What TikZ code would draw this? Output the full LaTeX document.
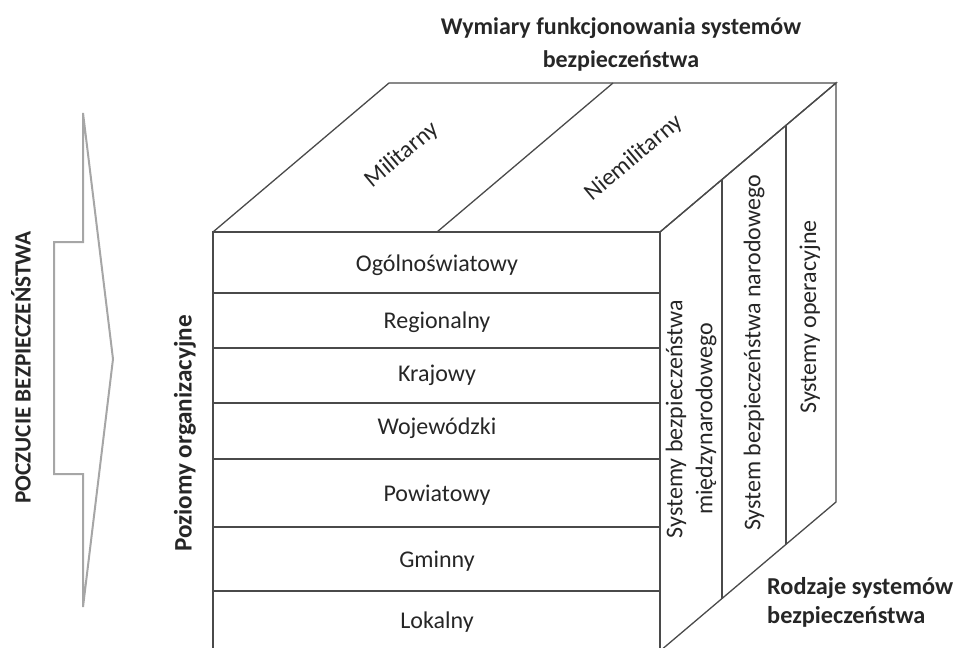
\documentclass[tikz,border=0pt]{standalone}
\usepackage{fontspec}
\setmainfont{Carlito}
\definecolor{ink}{HTML}{262626}
\definecolor{edge}{HTML}{4A4A4A}
\definecolor{arrowgrey}{HTML}{A6A6A6}
\begin{document}
\begin{tikzpicture}[x=1pt,y=-1pt,
  cubeline/.style={draw=edge,line width=1.3pt,line join=miter},
  lbl/.style={text=ink,inner sep=0pt,font=\fontsize{24}{28}\selectfont},
  boldlbl/.style={text=ink,inner sep=0pt,font=\bfseries\fontsize{24}{29}\selectfont},
  bigarrow/.style={draw=arrowgrey,line width=2pt,line join=miter}]
\useasboundingbox (0,0) rectangle (954,648);
\clip (0,0) rectangle (954,648);
% corners
\coordinate (FTL) at (213,232);
\coordinate (FTR) at (660,232);
\coordinate (FBL) at (213,651);
\coordinate (FBR) at (660,651);
\coordinate (BTL) at (389,83);
\coordinate (BTR) at (836,83);
\coordinate (BBR) at (836,502);
\coordinate (FTM) at (437,232);
\coordinate (BTM) at (613,83);
\coordinate (V1T) at (722,179.5);
\coordinate (V1B) at (722,598.5);
\coordinate (V2T) at (786,125.3);
\coordinate (V2B) at (786,544.3);
% top face
\draw[cubeline] (FTL) -- (BTL) -- (BTR) -- (FTR);
\draw[cubeline] (FTM) -- (BTM);
% right face
\draw[cubeline] (FTR) -- (BTR) -- (BBR) -- (FBR);
\draw[cubeline] (V1T) -- (V1B);
\draw[cubeline] (V2T) -- (V2B);
% front face
\draw[cubeline] (FTL) rectangle (FBR);
\foreach \y in {293,348,403,459,527,591} \draw[cubeline] (213,\y) -- (660,\y);
% front labels
\node[lbl] (r1) at (437,265) {Ogólnoświatowy};
\node[lbl] (r2) at (437,322) {Regionalny};
\node[lbl] (r3) at (437,375) {Krajowy};
\node[lbl] (r4) at (437,428) {Wojewódzki};
\node[lbl] (r5) at (437,495) {Powiatowy};
\node[lbl] (r6) at (437,561) {Gminny};
\node[lbl] (r7) at (437,622) {Lokalny};
% top labels
\node[lbl,rotate=40] (t1) at (402,155) {Militarny};
\node[lbl,rotate=40] (t2) at (634,158) {Niemilitarny};
% right labels
\node[lbl,rotate=90,align=center,font=\fontsize{24}{30}\selectfont] (s1) at (691,419) {Systemy bezpieczeństwa\\międzynarodowego};
\node[lbl,rotate=90] (s2) at (754,353) {System bezpieczeństwa narodowego};
\node[lbl,rotate=90] (s3) at (810,317) {Systemy operacyjne};
% titles
\node[boldlbl,align=center,font=\bfseries\fontsize{24}{33}\selectfont] (title) at (621,44) {Wymiary funkcjonowania systemów\\bezpieczeństwa};
\node[boldlbl,align=left,anchor=west,font=\bfseries\fontsize{24.3}{29}\selectfont] (kinds) at (767,602) {Rodzaje systemów\\bezpieczeństwa};
\node[boldlbl,rotate=90,font=\bfseries\fontsize{25.2}{30}\selectfont] (levels) at (185,433.5) {Poziomy organizacyjne};
\node[boldlbl,rotate=90,font=\bfseries\fontsize{23.2}{28}\selectfont] (feel) at (21,367.5) {POCZUCIE BEZPIECZEŃSTWA};
% big arrow
\draw[bigarrow] (83,113) -- (83,242) -- (54,242) -- (54,474) -- (83,474) -- (83,607) -- (113,359) -- cycle;
\end{tikzpicture}
\end{document}
